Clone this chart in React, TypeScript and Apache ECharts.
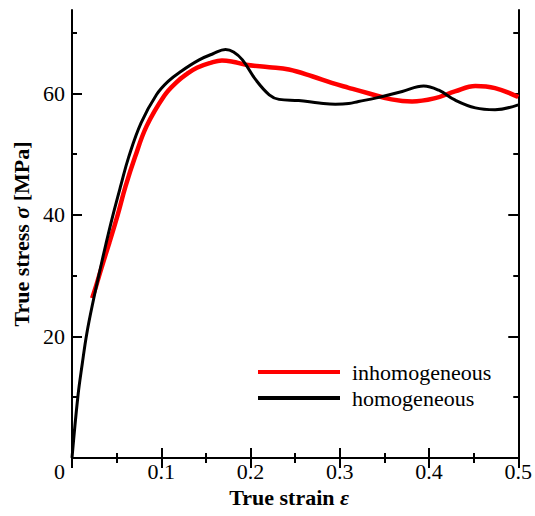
import React, { useEffect, useRef } from "react";
import * as echarts from "echarts";

const FONT = "Liberation Serif";

// True strain / true stress [MPa]
const inhomoStrain = [0.0226, 0.027, 0.0335, 0.042, 0.0512, 0.0598, 0.0706, 0.0836, 0.1034, 0.117, 0.129, 0.140, 0.155, 0.168, 0.18, 0.195, 0.221, 0.243, 0.269, 0.291, 0.31, 0.332, 0.358, 0.381, 0.407, 0.429, 0.452, 0.474, 0.5];
const inhomoStress = [26.3, 28.3, 31.5, 35.5, 40, 44.6, 49.5, 54.6, 59.6, 61.8, 63.2, 64.2, 65.0, 65.4, 65.2, 64.7, 64.3, 63.9, 62.8, 61.7, 60.9, 60.0, 59.0, 58.65, 59.2, 60.3, 61.2, 60.85, 59.4];

const homoStrain = [0, 0.0065, 0.0115, 0.0166, 0.024, 0.0312, 0.038, 0.0456, 0.055, 0.0635, 0.0773, 0.0948, 0.108, 0.122, 0.1425, 0.158, 0.172, 0.181, 0.191, 0.206, 0.221, 0.232, 0.254, 0.277, 0.295, 0.31, 0.321, 0.34, 0.37, 0.394, 0.411, 0.429, 0.452, 0.474, 0.5];
const homoStress = [0, 10, 15.5, 20.5, 26, 30.8, 35.2, 39.8, 45, 49.5, 55.1, 59.8, 62.0, 63.6, 65.5, 66.5, 67.2, 66.8, 65.5, 62.2, 59.75, 59.0, 58.8, 58.4, 58.2, 58.3, 58.65, 59.2, 60.3, 61.2, 60.5, 58.9, 57.6, 57.3, 58.1];

const seriesNames = ["inhomogeneous", "homogeneous"];
const yMajorTicks = [0, 20, 40, 60];
const yMinorTicks = [10, 30, 50, 70];
const yLabels = [20, 40, 60];

const X_MIN = 0;
const X_MAX = 0.5;
const Y_MIN = 0;
const Y_MAX = 73.7;

export default function App() {
  const ref = useRef<HTMLDivElement>(null);
  useEffect(() => {
    document.body.style.margin = "0";
    if (!ref.current) return;
    const chart = echarts.init(ref.current, null, { renderer: "svg" });
    const axisLine = { show: true, lineStyle: { color: "#000", width: 2 } };
    const tickStyle = { color: "#000", width: 2 };
    const labelText = { fontSize: 22, fontFamily: FONT, color: "#000" };

    const xBase = (pos: string, showLabel: boolean) => ({
      type: "value",
      position: pos,
      min: X_MIN,
      max: X_MAX,
      interval: 0.1,
      axisLine,
      axisTick: { show: true, inside: true, length: 10, lineStyle: tickStyle },
      minorTick: { show: true, splitNumber: 2, length: 5, lineStyle: tickStyle },
      splitLine: { show: false },
      minorSplitLine: { show: false },
      axisLabel: {
        show: showLabel,
        margin: 2,
        ...labelText,
        formatter: (v: number) => (v === 0 ? "{z|0}" : String(Math.round(v * 10) / 10)),
        rich: { z: { ...labelText, padding: [0, 25, 0, 0] } },
      },
    });

    const yBase = (pos: string, ticks: number[], len: number, labels: boolean, line: boolean) => ({
      type: "value",
      position: pos,
      min: Y_MIN,
      max: Y_MAX,
      axisLine: line ? axisLine : { show: false },
      axisTick: { show: true, inside: true, length: len, lineStyle: tickStyle, customValues: ticks },
      splitLine: { show: false },
      axisLabel: labels
        ? { show: true, margin: 7, ...labelText, customValues: yLabels }
        : { show: false },
    });

    const nameRich = {
      a: { fontSize: 22, fontFamily: FONT, fontWeight: "bold", color: "#000" },
      b: { fontSize: 22, fontFamily: FONT, fontWeight: "bold", fontStyle: "italic", color: "#000" },
    };

    const xName = {
      name: "{a|True strain }{b|ε}",
      nameLocation: "middle",
      nameGap: 28,
      nameTextStyle: { fontFamily: FONT, rich: nameRich, padding: [0, 12, 0, 0] },
    };

    const yLeft = {
      ...yBase("left", yMajorTicks, 10, true, true),
      name: "{a|True stress }{b|σ}{a| [MPa]}",
      nameLocation: "middle",
      nameGap: 40,
      nameTextStyle: { fontFamily: FONT, rich: nameRich },
    };

    chart.setOption({
      animation: false,
      backgroundColor: "#fff",
      textStyle: { fontFamily: FONT },
      grid: { left: 72, right: 15, top: 10, bottom: 58, containLabel: false },
      legend: {
        orient: "vertical",
        left: 258,
        top: 361,
        padding: 0,
        icon: "rect",
        itemWidth: 82,
        itemHeight: 4,
        itemGap: 4,
        data: seriesNames,
        textStyle: { fontSize: 22, fontFamily: FONT, color: "#000", padding: [0, 0, 0, 7] },
      },
      xAxis: [{ ...xBase("bottom", true), ...xName }, xBase("top", false)],
      yAxis: [
        yLeft,
        yBase("left", yMinorTicks, 5, false, false),
        yBase("right", yMajorTicks, 10, false, true),
        yBase("right", yMinorTicks, 5, false, false),
      ],
      series: [
        {
          type: "line",
          name: seriesNames[0],
          xAxisIndex: 0,
          yAxisIndex: 0,
          data: inhomoStrain.map((x, i) => [x, inhomoStress[i]]),
          symbol: "none",
          showSymbol: false,
          smooth: 0.4,
          lineStyle: { color: "#ff0000", width: 4.5 },
          itemStyle: { color: "#ff0000" },
        },
        {
          type: "line",
          name: seriesNames[1],
          xAxisIndex: 0,
          yAxisIndex: 0,
          data: homoStrain.map((x, i) => [x, homoStress[i]]),
          symbol: "none",
          showSymbol: false,
          smooth: 0.4,
          lineStyle: { color: "#000000", width: 3 },
          itemStyle: { color: "#000000" },
        },
      ],
    });
    return () => chart.dispose();
  }, []);
  return <div ref={ref} style={{ width: 535, height: 516 }} />;
}
